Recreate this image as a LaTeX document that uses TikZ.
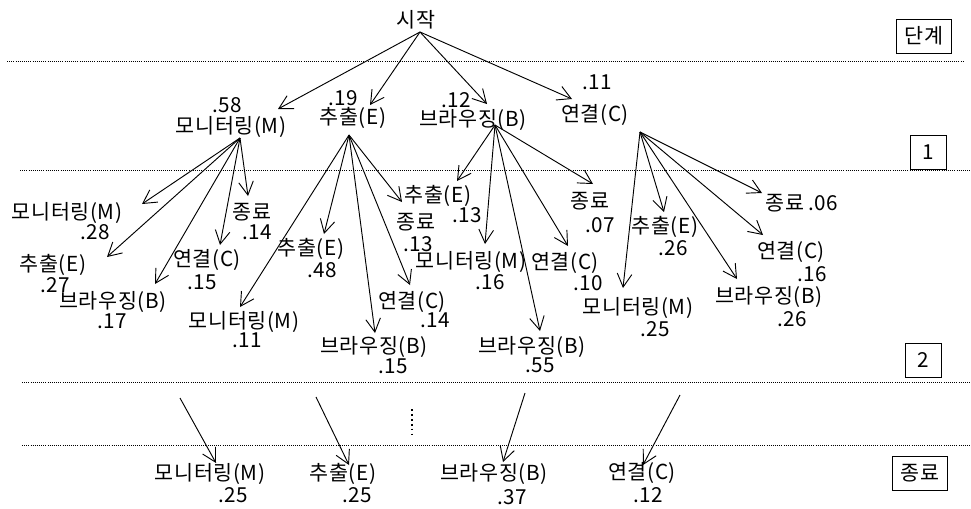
\documentclass[tikz,border=0pt]{standalone}
\usepackage{fontspec}
\setmainfont[LetterSpace=3]{Noto Sans CJK KR}
\usetikzlibrary{arrows.meta}

\begin{document}
\begin{tikzpicture}[x=0.75pt,y=-0.75pt,
  lbl/.style={font=\fontsize{15.5}{17}\selectfont, inner sep=0pt},
  arr/.style={line width=0.7pt, -{Straight Barb[length=10pt,width=11pt]}},
  level/.style={densely dotted, line width=0.6pt},
  stage/.style={draw, line width=0.7pt, font=\fontsize{15.5}{17}\selectfont,
    minimum width=27pt, minimum height=25.5pt, inner xsep=6pt}]
\useasboundingbox (0,0) rectangle (971,508);
% level lines
\draw[level] (7,61) -- (963,61);
\draw[level] (20,170) -- (971,170);
\draw[level] (22,382) -- (971,382);
\draw[level] (22,445) -- (971,445);
% stage boxes
\node[stage] (s0) at (924,36) {단계};
\node[stage] (s1) at (928,152) {1};
\node[stage] (s2) at (923,360) {2};
\node[stage] (s3) at (920,473) {종료};
% start
\node[lbl] (start) at (416,20) {시작};
\coordinate (start-o) at (420,32);
% stage 1
\foreach \nm/\tp/\lb/\lp/\pr/\pp in {
  m1/{278,109}/모니터링(M)/{231,127}/.58/{227,105},
  e1/{370,105}/추출(E)/{353,118}/.19/{343,98},
  b1/{487,104}/브라우징(B)/{473,120}/.12/{456,100},
  c1/{572,99}/연결(C)/{595,115}/.11/{597,82}}
{
  \coordinate (\nm-t) at (\tp);
  \node[lbl] (\nm) at (\lp) {\lb};
  \node[lbl] (\nm-p) at (\pp) {\pr};
  \draw[arr] (start-o) -- (\nm-t);
}
\coordinate (m1-o) at (240,138);
\coordinate (e1-o) at (349,135);
\coordinate (b1-o) at (495,125);
\coordinate (c1-o) at (640,132);
% stage 2, after M
\foreach \nm/\tp/\lb/\lp/\pr/\pp in {
  mm/{142,204}/모니터링(M)/{67,213}/.28/{95,232},
  me/{107,257}/추출(E)/{53,265}/.27/{55,285},
  mb/{155,284}/브라우징(B)/{113,302}/.17/{112,321},
  mc/{220,245}/연결(C)/{207,260}/.15/{202,282},
  mx/{248,196}/종료/{252,212}/.14/{257,232}}
{
  \coordinate (\nm-t) at (\tp);
  \node[lbl] (\nm) at (\lp) {\lb};
  \node[lbl] (\nm-p) at (\pp) {\pr};
  \draw[arr] (m1-o) -- (\nm-t);
}
% stage 2, after E
\foreach \nm/\tp/\lb/\lp/\pr/\pp in {
  ee/{324,234}/추출(E)/{311,249}/.48/{322,270},
  em/{240,307}/모니터링(M)/{244,322}/.11/{247,340},
  eb/{375,333}/브라우징(B)/{374,347}/.15/{393,366},
  ec/{410,285}/연결(C)/{412,302}/.14/{435,320},
  ex/{402,202}/종료/{416,222}/.13/{418,244}}
{
  \coordinate (\nm-t) at (\tp);
  \node[lbl] (\nm) at (\lp) {\lb};
  \node[lbl] (\nm-p) at (\pp) {\pr};
  \draw[arr] (e1-o) -- (\nm-t);
}
% stage 2, after B
\foreach \nm/\tp/\lb/\lp/\pr/\pp in {
  be/{457,181}/추출(E)/{438,196}/.13/{467,215},
  bm/{485,244}/모니터링(M)/{471,262}/.16/{490,282},
  bx/{593,184}/종료/{590,201}/.07/{600,225},
  bc/{568,246}/연결(C)/{565,263}/.10/{588,283},
  bb/{540,331}/브라우징(B)/{532,347}/.55/{540,365}}
{
  \coordinate (\nm-t) at (\tp);
  \node[lbl] (\nm) at (\lp) {\lb};
  \node[lbl] (\nm-p) at (\pp) {\pr};
  \draw[arr] (b1-o) -- (\nm-t);
}
% stage 2, after C
\foreach \nm/\tp/\lb/\lp/\pr/\pp in {
  ce/{664,212}/추출(E)/{665,227}/.26/{673,248},
  cm/{623,288}/모니터링(M)/{638,308}/.25/{655,329},
  cx/{762,193}/종료/{785,203}/.06/{823,203},
  cc/{763,235}/연결(C)/{791,252}/.16/{812,274},
  cb/{737,279}/브라우징(B)/{769,297}/.26/{792,319}}
{
  \coordinate (\nm-t) at (\tp);
  \node[lbl] (\nm) at (\lp) {\lb};
  \node[lbl] (\nm-p) at (\pp) {\pr};
  \draw[arr] (c1-o) -- (\nm-t);
}
% end stage
\draw[dash pattern=on 1.3pt off 2.4pt, line width=1pt] (412,409) -- (412,434);
\foreach \nm/\fr/\tp/\lb/\lp/\pr/\pp in {
  fm/{180,398}/{216,463}/모니터링(M)/{210,474}/.25/{233,495},
  fe/{316,397}/{349,465}/추출(E)/{343,474}/.25/{357,495},
  fb/{525,393}/{503,462}/브라우징(B)/{494,474}/.37/{512,497},
  fc/{680,395}/{643,465}/연결(C)/{642,473}/.12/{648,495}}
{
  \coordinate (\nm-o) at (\fr);
  \coordinate (\nm-t) at (\tp);
  \node[lbl] (\nm) at (\lp) {\lb};
  \node[lbl] (\nm-p) at (\pp) {\pr};
  \draw[arr] (\nm-o) -- (\nm-t);
}
\end{tikzpicture}
\end{document}
